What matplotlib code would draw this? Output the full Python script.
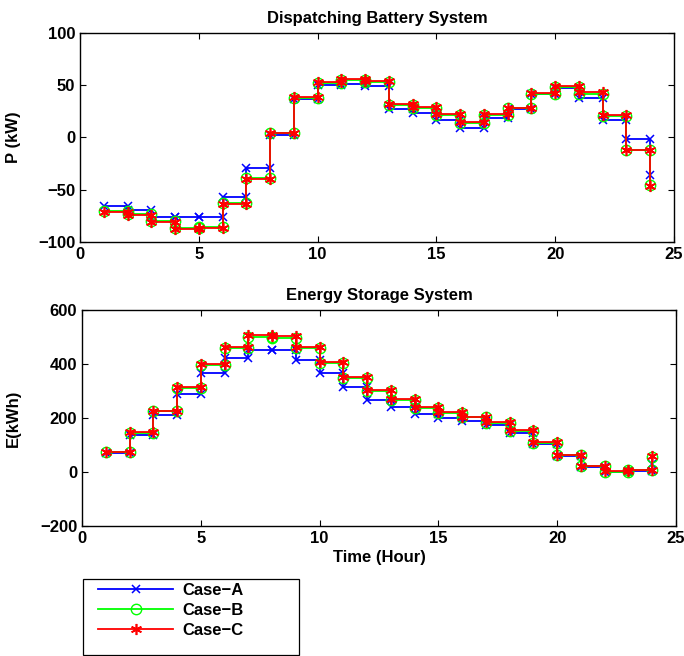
import numpy as np
import matplotlib
matplotlib.use("Agg")
import matplotlib.pyplot as plt
from matplotlib.patches import Rectangle

# ---------------- data ----------------
hours = list(range(1, 25))

p_case_a = [-66, -70, -76, -76, -76, -57, -29, 2, 37, 50, 51, 49,
            27, 23.5, 16.5, 8.6, 19, 27, 42, 47, 38, 16.5, -2, -36]
p_case_b = [-71, -73.5, -80.5, -87, -86, -63, -39, 4, 38, 52, 54.5, 53,
            31, 28, 21, 14, 21, 28, 42, 48.5, 42, 20.5, -12.5, -46]
p_case_c = [-71.5, -74.5, -81.5, -88, -86.5, -63.5, -39.5, 4.5, 39, 53, 55.5, 54,
            32, 29, 22, 15, 22, 28.5, 42.5, 49.5, 43, 21.5, -12, -46.5]

e_case_a = [70, 136, 212, 289, 365, 422, 452, 452, 415, 368, 314, 267,
            240, 215, 199, 189, 174, 143, 104, 57, 16, 1, 3, 30]
e_case_b = [72, 144, 224, 312, 396, 460, 499, 497, 458, 404, 349, 300,
            265, 238, 217, 202, 181, 152, 108, 61, 20, 1, 6, 56]
e_case_c = [72, 146, 227, 316, 400, 464, 506, 504, 462, 408, 353, 304,
            269, 242, 220, 205, 184, 156, 111, 63, 22, 2, 8, 59]

case_labels = ["Case\u2212A", "Case\u2212B", "Case\u2212C"]
x_ticks = [0, 5, 10, 15, 20, 25]
p_ticks = [-100, -50, 0, 50, 100]
e_ticks = [-200, 0, 200, 400, 600]

titles = ["Dispatching Battery System", "Energy Storage System"]

# ---------------- style ----------------
plt.rcParams['font.family'] = ['Liberation Sans', 'DejaVu Sans']
plt.rcParams['font.weight'] = 'bold'
plt.rcParams['font.size'] = 12
plt.rcParams['axes.unicode_minus'] = True

styles = [
    dict(color=(0, 0, 1), marker='x', markersize=6, mew=1.1, mfc='none'),
    dict(color=(0, 1, 0), marker='o', markersize=7.5, mew=1.0, mfc='none'),
    dict(color=(1, 0, 0), marker=(6, 2, 0), markersize=8, mew=1.2),
]


def stair_vertices(x, y):
    x = np.asarray(x, dtype=float)
    y = np.asarray(y, dtype=float)
    xs = np.repeat(x, 2)[1:]
    ys = np.repeat(y, 2)[:-1]
    return xs, ys


W, H = 684, 656
fig = plt.figure(figsize=(W / 100, H / 100), dpi=100)
ax1 = fig.add_axes([80 / W, 1 - 241.7 / H, 594 / W, 208.7 / H])
ax2 = fig.add_axes([82 / W, 1 - 525.7 / H, 594 / W, 215.7 / H])

lines = []
for ax, series, ticks, ylab, title in [
        (ax1, [p_case_a, p_case_b, p_case_c], p_ticks, "P (kW)", titles[0]),
        (ax2, [e_case_a, e_case_b, e_case_c], e_ticks, "E(kWh)", titles[1])]:
    lines = []
    for vals, st, lab in zip(series, styles, case_labels):
        xs, ys = stair_vertices(hours, vals)
        ln, = ax.plot(xs, ys, lw=1.3, label=lab, **st)
        lines.append(ln)
    ax.set_xlim(0, 25)
    ax.set_ylim(ticks[0], ticks[-1])
    ax.set_xticks(x_ticks)
    ax.set_yticks(ticks)
    ax.tick_params(direction='in', length=4, width=0.8, top=True, right=True,
                   labelsize=12)
    ax.tick_params(axis='x', pad=4)
    ax.tick_params(axis='y', pad=3.5)
    for lbl in ax.get_xticklabels() + ax.get_yticklabels():
        lbl.set_fontweight('bold')
    for sp in ax.spines.values():
        sp.set_linewidth(1.0)
    ax.set_title(title, fontsize=12, fontweight='bold', pad=7)
    ax.set_ylabel(ylab, fontsize=12, fontweight='bold')

ax1.yaxis.set_label_coords((21 - 80) / 594, 0.5)
ax2.yaxis.set_label_coords((21 - 82) / 594, 0.5)
ax2.set_xlabel("Time (Hour)", fontsize=12, fontweight='bold', labelpad=3)

leg = fig.legend(handles=lines, labels=case_labels, loc='upper left',
                 bbox_to_anchor=(98 / W, 1 - 583 / H), frameon=False,
                 borderpad=0, borderaxespad=0, handlelength=4.5,
                 handletextpad=0.55, labelspacing=0.3, numpoints=1,
                 prop=dict(family=['Liberation Sans', 'DejaVu Sans'],
                           weight='bold', size=12))
fig.patches.append(Rectangle((83 / W, 1 - 655 / H), 216 / W, 76 / H,
                             transform=fig.transFigure, fill=False,
                             ec='black', lw=0.9))

fig.savefig("out.png", dpi=100)
